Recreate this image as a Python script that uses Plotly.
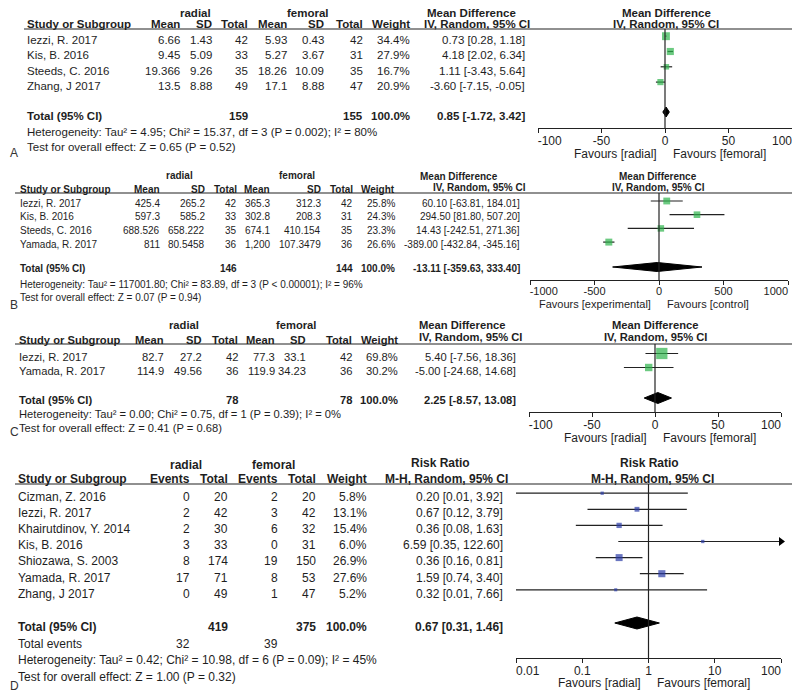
import plotly.graph_objects as go

W, H = 800, 693
OX, OY = 8, 8  # page offset of the figure (default body margin)
FONT = "Liberation Sans, Arial, Helvetica, sans-serif"
TXT = "#1e1e1e"
LINE = "#222222"
GREEN = "#2eb34b"
BLUE = "#2b3ca6"
NBSP = "\u00a0"

# ---------------- data: panel A (Mean Difference) ----------------
a_studies = ["Iezzi, R. 2017", "Kis, B. 2016", "Steeds, C. 2016", "Zhang, J 2017"]
a_rad_mean = ["6.66", "9.45", "19.366", "13.5"]
a_rad_sd = ["1.43", "5.09", "9.26", "8.88"]
a_rad_n = [42, 33, 35, 49]
a_fem_mean = ["5.93", "5.27", "18.26", "17.1"]
a_fem_sd = ["0.43", "3.67", "10.09", "8.88"]
a_fem_n = [42, 31, 35, 47]
a_weight = [34.4, 27.9, 16.7, 20.9]
a_md = [0.73, 4.18, 1.11, -3.60]
a_lo = [0.28, 2.02, -3.43, -7.15]
a_hi = [1.18, 6.34, 5.64, -0.05]
a_total = {"rad_n": 159, "fem_n": 155, "md": 0.85, "lo": -1.72, "hi": 3.42}
a_het = "Heterogeneity: Tau² = 4.95; Chi² = 15.37, df = 3 (P = 0.002); I² = 80%"
a_test = "Test for overall effect: Z = 0.65 (P = 0.52)"
a_ticks = [-100, -50, 0, 50, 100]
a_ticktext = ["-100", "-50", "0", "50", "100"]

# ---------------- data: panel B ----------------
b_studies = ["Iezzi, R. 2017", "Kis, B. 2016", "Steeds, C. 2016", "Yamada, R. 2017"]
b_rad_mean = ["425.4", "597.3", "688.526", "811"]
b_rad_sd = ["265.2", "585.2", "658.222", "80.5458"]
b_rad_n = [42, 33, 35, 36]
b_fem_mean = ["365.3", "302.8", "674.1", "1,200"]
b_fem_sd = ["312.3", "208.3", "410.154", "107.3479"]
b_fem_n = [42, 31, 35, 36]
b_weight = [25.8, 24.3, 23.3, 26.6]
b_md = [60.10, 294.50, 14.43, -389.00]
b_lo = [-63.81, 81.80, -242.51, -432.84]
b_hi = [184.01, 507.20, 271.36, -345.16]
b_total = {"rad_n": 146, "fem_n": 144, "md": -13.11, "lo": -359.63, "hi": 333.40}
b_het = "Heterogeneity: Tau² = 117001.80; Chi² = 83.89, df = 3 (P < 0.00001); I² = 96%"
b_test = "Test for overall effect: Z = 0.07 (P = 0.94)"
b_ticks = [-1000, -500, 0, 500, 1000]
b_ticktext = ["-1000", "-500", "0", "500", "1000"]

# ---------------- data: panel C ----------------
c_studies = ["Iezzi, R. 2017", "Yamada, R. 2017"]
c_rad_mean = ["82.7", "114.9"]
c_rad_sd = ["27.2", "49.56"]
c_rad_n = [42, 36]
c_fem_mean = ["77.3", "119.9"]
c_fem_sd = ["33.1", "34.23"]
c_fem_n = [42, 36]
c_weight = [69.8, 30.2]
c_md = [5.40, -5.00]
c_lo = [-7.56, -24.68]
c_hi = [18.36, 14.68]
c_total = {"rad_n": 78, "fem_n": 78, "md": 2.25, "lo": -8.57, "hi": 13.08}
c_het = "Heterogeneity: Tau² = 0.00; Chi² = 0.75, df = 1 (P = 0.39); I² = 0%"
c_test = "Test for overall effect: Z = 0.41 (P = 0.68)"
c_ticks = [-100, -50, 0, 50, 100]
c_ticktext = ["-100", "-50", "0", "50", "100"]

# ---------------- data: panel D (Risk Ratio) ----------------
d_studies = ["Cizman, Z. 2016", "Iezzi, R. 2017", "Khairutdinov, Y. 2014", "Kis, B. 2016",
             "Shiozawa, S. 2003", "Yamada, R. 2017", "Zhang, J 2017"]
d_rad_ev = [0, 2, 2, 3, 8, 17, 0]
d_rad_n = [20, 42, 30, 33, 174, 71, 49]
d_fem_ev = [2, 3, 6, 0, 19, 8, 1]
d_fem_n = [20, 42, 32, 31, 150, 53, 47]
d_weight = [5.8, 13.1, 15.4, 6.0, 26.9, 27.6, 5.2]
d_rr = [0.20, 0.67, 0.36, 6.59, 0.36, 1.59, 0.32]
d_lo = [0.01, 0.12, 0.08, 0.35, 0.16, 0.74, 0.01]
d_hi = [3.92, 3.79, 1.63, 122.60, 0.81, 3.40, 7.66]
d_total = {"rad_n": 419, "fem_n": 375, "md": 0.67, "lo": 0.31, "hi": 1.46,
           "rad_ev": 32, "fem_ev": 39}
d_het = "Heterogeneity: Tau² = 0.42; Chi² = 10.98, df = 6 (P = 0.09); I² = 45%"
d_test = "Test for overall effect: Z = 1.00 (P = 0.32)"
d_ticks = [0.01, 0.1, 1, 10, 100]
d_ticktext = ["0.01", "0.1", "1", "10", "100"]

fig = go.Figure()
ann = []
shapes = []
layout_axes = {}


def PX(x):
    """page pixel x -> paper fraction"""
    return (x - OX) / W


def text(x, y, s, size, anchor="left", bold=False, color=TXT):
    ann.append(dict(x=PX(x), y=y, xref="paper", yref="y",
                    text=f"<b>{s}</b>" if bold else s, showarrow=False,
                    xanchor=anchor, yanchor="middle",
                    font=dict(family=FONT, size=size, color=color)))


def fmt_ci(m, l, h):
    return f"{m:.2f} [{l:.2f}, {h:.2f}]"


def inset_end_labels(labels):
    """First label starts at its tick, last label ends at its tick (as in RevMan):
    pad with non-breaking spaces of about the label's own width."""
    def n_pad(s):
        w = sum(0.5 if ch in "-." else 1.0 for ch in s)  # in digit widths
        return int(round(w * 2))
    out = list(labels)
    out[0] = NBSP * n_pad(out[0]) + out[0]
    out[-1] = out[-1] + NBSP * n_pad(out[-1])
    return out


def panel(cfg):
    fs = cfg["fs"]
    for s, cx, cy in cfg["groups"]:
        text(cx, cy, s, fs, anchor="center", bold=True)
    text(cfg["study_x"], cfg["header_y"], "Study or Subgroup", fs, bold=True)
    for s, rx in zip(cfg["headers"], cfg["col_rx"]):
        text(rx, cfg["header_y"], s, fs, anchor="right", bold=True)
    for s, cx, cy in cfg["ci_header"]:
        text(cx, cy, s, fs, anchor="center", bold=True)
    shapes.append(dict(type="line", xref="paper", yref="y", x0=PX(cfg["line_x0"]), x1=1,
                       y0=cfg["line_y"], y1=cfg["line_y"], line=dict(color=LINE, width=1.2)))
    n = len(cfg["studies"])
    row_ys = [cfg["row_y0"] + i * cfg["row_dy"] for i in range(n)]
    for i, ry in enumerate(row_ys):
        text(cfg["study_x"], ry, cfg["studies"][i], fs)
        for col, rx in zip(cfg["cols"], cfg["col_rx"]):
            text(rx, ry, str(col[i]), fs, anchor="right")
        text(cfg["ci_rx"], ry, fmt_ci(cfg["est"][i], cfg["lo"][i], cfg["hi"][i]), fs, anchor="right")
    tot = cfg["total"]
    text(cfg["study_x"], cfg["total_y"], "Total (95% CI)", fs, bold=True)
    text(cfg["tot_rx"][0], cfg["total_y"], str(tot["rad_n"]), fs, anchor="right", bold=True)
    text(cfg["tot_rx"][1], cfg["total_y"], str(tot["fem_n"]), fs, anchor="right", bold=True)
    text(cfg["tot_rx"][2], cfg["total_y"], "100.0%", fs, anchor="right", bold=True)
    text(cfg["ci_rx"], cfg["total_y"], fmt_ci(tot["md"], tot["lo"], tot["hi"]), fs, anchor="right", bold=True)
    if "events_y" in cfg:
        text(cfg["study_x"], cfg["events_y"], "Total events", fs)
        text(cfg["ev_rx"][0], cfg["events_y"], str(tot["rad_ev"]), fs, anchor="right")
        text(cfg["ev_rx"][1], cfg["events_y"], str(tot["fem_ev"]), fs, anchor="right")
    text(cfg["study_x"], cfg["het_y"], cfg["het"], fs)
    text(cfg["study_x"], cfg["test_y"], cfg["test"], fs)
    lx, ly, ls = cfg["letter"]
    text(lx, ly, ls, 12, color="#333333")

    # ---- forest plot on its own x axis ----
    ax = cfg["axis"]
    axkey = "xaxis" if ax == "x" else "xaxis" + ax[1:]
    d0, d1 = cfg["domain"]
    layout_axes[axkey] = dict(
        domain=[PX(d0), PX(d1)], anchor="free", position=1 - (cfg["axis_y"] - OY) / H,
        range=cfg["range"], type=cfg.get("type", "linear"), automargin=False,
        tickvals=cfg["ticks"], ticktext=inset_end_labels(cfg["ticktext"]),
        ticklabeloverflow="allow",
        ticks="outside", ticklen=4, tickwidth=1.2, tickcolor=LINE, ticklabelstandoff=-3,
        showline=True, linecolor=LINE, linewidth=1.2, showgrid=False, zeroline=False,
        tickfont=dict(family=FONT, size=cfg["tick_fs"], color=TXT), fixedrange=True)
    ref = cfg["ref"]
    shapes.append(dict(type="line", xref=ax, yref="y", x0=ref, x1=ref, y0=cfg["line_y"],
                       y1=cfg["axis_y"], line=dict(color=LINE, width=1.2)))
    for s, cx, cy in cfg["plot_header"]:
        text(cx, cy, s, fs, anchor="center", bold=True)
    fy = [y + cfg["forest_dy"] for y in row_ys]
    xmax = cfg["ticks"][-1]
    lx_, ly_ = [], []
    arrows_x, arrows_y = [], []
    for i in range(n):
        hi = cfg["hi"][i]
        if hi > xmax:
            hi = xmax
            arrows_x.append(xmax)
            arrows_y.append(fy[i])
        lx_ += [cfg["lo"][i], hi, None]
        ly_ += [fy[i], fy[i], None]
    fig.add_trace(go.Scatter(x=lx_, y=ly_, xaxis=ax, yaxis="y", mode="lines",
                             line=dict(color=LINE, width=1.2), hoverinfo="skip", showlegend=False))
    fig.add_trace(go.Scatter(x=cfg["est"], y=fy, xaxis=ax, yaxis="y", mode="markers",
                             marker=dict(symbol="square", color=cfg["color"],
                                         size=[1.35 * w ** 0.5 for w in cfg["weight"]], line=dict(width=0)),
                             hoverinfo="skip", showlegend=False))
    if arrows_x:
        fig.add_trace(go.Scatter(x=arrows_x, y=arrows_y, xaxis=ax, yaxis="y", mode="markers",
                                 marker=dict(symbol="triangle-right", color="black", size=8),
                                 cliponaxis=False, hoverinfo="skip", showlegend=False))
    dy = cfg["diamond_y"]
    h = cfg["diamond_h"]
    fig.add_trace(go.Scatter(x=[tot["lo"], tot["md"], tot["hi"], tot["md"], tot["lo"]],
                             y=[dy, dy - h, dy, dy + h, dy], xaxis=ax, yaxis="y", mode="lines",
                             fill="toself", fillcolor="black", line=dict(color="black", width=1),
                             hoverinfo="skip", showlegend=False))
    fl, fr = cfg["favours"]
    xr = 0 if cfg.get("type") == "log" else ref
    for s, anc, sh in ((fl, "right", -6), (fr, "left", 6)):
        ann.append(dict(x=xr, y=cfg["fav_y"], xref=ax, yref="y", text=s, showarrow=False,
                        xanchor=anc, yanchor="middle", xshift=sh,
                        font=dict(family=FONT, size=cfg["tick_fs"], color=TXT)))


panel(dict(
    fs=11.5, tick_fs=12, study_x=25, studies=a_studies,
    groups=[("radial", 195, 13), ("femoral", 308, 13)],
    header_y=24, line_y=29, line_x0=24,
    headers=["Mean", "SD", "Total", "Mean", "SD", "Total", "Weight"],
    col_rx=[182, 214, 250, 289, 326, 365, 412],
    cols=[a_rad_mean, a_rad_sd, a_rad_n, a_fem_mean, a_fem_sd, a_fem_n, [f"{w:.1f}%" for w in a_weight]],
    ci_rx=527, ci_header=[("Mean Difference", 471, 13), ("IV, Random, 95% CI", 477, 24)],
    est=a_md, lo=a_lo, hi=a_hi, weight=a_weight, total=a_total,
    row_y0=40, row_dy=15.3, total_y=116, tot_rx=[250, 365, 412],
    het=a_het, test=a_test, het_y=132, test_y=147, letter=(8, 153, "A"),
    axis="x", domain=(538, 792), axis_y=128, range=[-100, 100], ticks=a_ticks,
    ticktext=a_ticktext, ref=0,
    plot_header=[("Mean Difference", 666, 13), ("IV, Random, 95% CI", 666, 24)],
    forest_dy=-3.8, diamond_y=112, diamond_h=5, color=GREEN,
    favours=("Favours [radial]", "Favours [femoral]"), fav_y=154,
))

panel(dict(
    fs=10, tick_fs=11, study_x=18, studies=b_studies,
    groups=[("radial", 179, 175), ("femoral", 297, 175)],
    header_y=189, line_y=193, line_x0=15,
    headers=["Mean", "SD", "Total", "Mean", "SD", "Total", "Weight"],
    col_rx=[162, 207, 239, 272, 323, 355, 397],
    cols=[b_rad_mean, b_rad_sd, b_rad_n, b_fem_mean, b_fem_sd, b_fem_n, [f"{w:.1f}%" for w in b_weight]],
    ci_rx=522, ci_header=[("Mean Difference", 459, 176), ("IV, Random, 95% CI", 479, 187)],
    est=b_md, lo=b_lo, hi=b_hi, weight=b_weight, total=b_total,
    row_y0=203, row_dy=13.7, total_y=268, tot_rx=[239, 355, 397],
    het=b_het, test=b_test, het_y=284, test_y=297, letter=(8, 305, "B"),
    axis="x2", domain=(530, 788), axis_y=280, range=[-1000, 1000], ticks=b_ticks,
    ticktext=b_ticktext, ref=0,
    plot_header=[("Mean Difference", 658, 176), ("IV, Random, 95% CI", 658, 187)],
    forest_dy=-2, diamond_y=267, diamond_h=4.5, color=GREEN,
    favours=("Favours [experimental]", "Favours [control]"), fav_y=304,
))

panel(dict(
    fs=11.2, tick_fs=12, study_x=17, studies=c_studies,
    groups=[("radial", 184, 325), ("femoral", 296, 325)],
    header_y=340, line_y=344, line_x0=15,
    headers=["Mean", "SD", "Total", "Mean", "SD", "Total", "Weight"],
    col_rx=[166, 204, 240, 277, 308, 354, 400],
    cols=[c_rad_mean, c_rad_sd, c_rad_n, c_fem_mean, c_fem_sd, c_fem_n, [f"{w:.1f}%" for w in c_weight]],
    ci_rx=518, ci_header=[("Mean Difference", 462, 325), ("IV, Random, 95% CI", 470, 337)],
    est=c_md, lo=c_lo, hi=c_hi, weight=c_weight, total=c_total,
    row_y0=357, row_dy=14, total_y=400, tot_rx=[240, 354, 400],
    het=c_het, test=c_test, het_y=414, test_y=428, letter=(8, 432, "C"),
    axis="x3", domain=(529, 781), axis_y=412, range=[-100, 100], ticks=c_ticks,
    ticktext=c_ticktext, ref=0,
    plot_header=[("Mean Difference", 655, 325), ("IV, Random, 95% CI", 655, 337)],
    forest_dy=-3.5, diamond_y=398, diamond_h=5.5, color=GREEN,
    favours=("Favours [radial]", "Favours [femoral]"), fav_y=438,
))

panel(dict(
    fs=12, tick_fs=12, study_x=16, studies=d_studies,
    groups=[("radial", 186, 465), ("femoral", 273, 465)],
    header_y=479, line_y=484, line_x0=15,
    headers=["Events", "Total", "Events", "Total", "Weight"],
    col_rx=[192, 230, 280, 318, 369],
    cols=[d_rad_ev, d_rad_n, d_fem_ev, d_fem_n, [f"{w:.1f}%" for w in d_weight]],
    ci_rx=505, ci_header=[("Risk Ratio", 440, 463), ("M-H, Random, 95% CI", 447, 479)],
    est=d_rr, lo=d_lo, hi=d_hi, weight=d_weight, total=d_total,
    row_y0=497, row_dy=16.1, total_y=627, tot_rx=[230, 318, 369],
    events_y=644, ev_rx=[192, 280],
    het=d_het, test=d_test, het_y=660, test_y=677, letter=(8, 686, "D"),
    axis="x4", domain=(516, 781), axis_y=658, range=[-2, 2], type="log",
    ticks=d_ticks, ticktext=d_ticktext, ref=1,
    plot_header=[("Risk Ratio", 649, 463), ("M-H, Random, 95% CI", 652, 479)],
    forest_dy=-3.8, diamond_y=623, diamond_h=6, color=BLUE,
    favours=("Favours [radial]", "Favours [femoral]"), fav_y=683,
))

fig.update_layout(
    width=W, height=H, margin=dict(l=0, r=0, t=0, b=0, autoexpand=False),
    paper_bgcolor="white", plot_bgcolor="rgba(0,0,0,0)", showlegend=False,
    yaxis=dict(domain=[0, 1], range=[H + OY, OY], visible=False, fixedrange=True, automargin=False),
    annotations=ann, shapes=shapes,
    **layout_axes,
)
fig.write_html("out.html")
